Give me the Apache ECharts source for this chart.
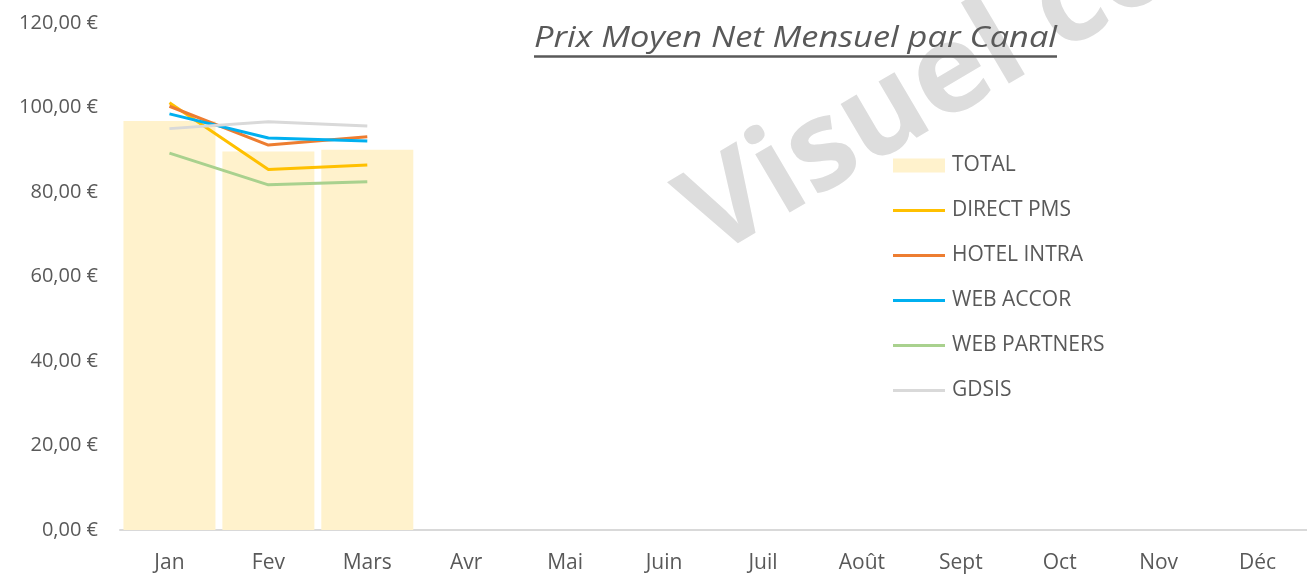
<!DOCTYPE html>
<html>
<head>
<meta charset="utf-8">
<script src="https://cdn.jsdelivr.net/npm/echarts@6/dist/echarts.min.js"></script>
<style>
html,body{margin:0;padding:0;background:#fff;}
#chart{width:1307px;height:574px;}
</style>
</head>
<body>
<div id="chart"></div>
<script>
const months = ['Jan','Fev','Mars','Avr','Mai','Juin','Juil','Août','Sept','Oct','Nov','Déc'];
const total       = [96.8, 89.6, 90.0, null, null, null, null, null, null, null, null, null];
const directPms   = [101.1, 85.3, 86.4, null, null, null, null, null, null, null, null, null];
const hotelIntra  = [100.3, 91.1, 93.1, null, null, null, null, null, null, null, null, null];
const webAccor    = [98.5, 92.8, 92.1, null, null, null, null, null, null, null, null, null];
const webPartners = [89.2, 81.7, 82.4, null, null, null, null, null, null, null, null, null];
const gdsis       = [95.0, 96.6, 95.6, null, null, null, null, null, null, null, null, null];
const yTicks = [0, 20, 40, 60, 80, 100, 120];
const titleText = 'Prix Moyen Net Mensuel par Canal';
const watermarkText = 'Visuel co';

const FONT = '"Open Sans", "Noto Sans", sans-serif';
const TXT = '#595959';

const chart = echarts.init(document.getElementById('chart'), null, {renderer: 'canvas'});

// Title: match the reference width (534 -> 1057)
const titleFont = 'italic 30px "Open Sans"';
const c = document.createElement('canvas').getContext('2d');
c.font = titleFont;
const rawW = c.measureText(titleText).width;
const tLeft = 534, tRight = 1057;
const tScale = (tRight - tLeft) / rawW;

function lineSeries(name, data, color) {
  return {
    name, type: 'line', data, symbol: 'none', showSymbol: false,
    lineStyle: {color, width: 3}, itemStyle: {color}, z: 3
  };
}
const lineIcon = 'path://M0,0H52V3H0Z';

chart.setOption({
  backgroundColor: '#fff',
  animation: false,
  grid: {left: 120, top: 23, width: 1196, bottom: 41, containLabel: false},
  xAxis: {
    type: 'category', data: months,
    axisLine: {lineStyle: {color: '#D9D9D9', width: 2}},
    axisTick: {show: false},
    axisLabel: {color: TXT, fontSize: 21, fontFamily: FONT, margin: 23}
  },
  yAxis: {
    type: 'value', min: yTicks[0], max: yTicks[yTicks.length - 1], interval: 20,
    axisLine: {show: false}, axisTick: {show: false},
    splitLine: {show: false},
    axisLabel: {color: TXT, fontSize: 20, fontFamily: FONT, margin: 22, padding: [4, 0, 0, 0],
      formatter: v => v.toFixed(2).replace('.', ',') + ' €'}
  },
  legend: {
    orient: 'vertical', left: 888, top: 150, itemWidth: 52, itemHeight: 14, itemGap: 24,
    symbolKeepAspect: true,
    textStyle: {color: TXT, fontSize: 21, fontFamily: FONT, padding: [0, 0, 0, 2]},
    data: [
      {name: 'TOTAL', icon: 'rect'},
      {name: 'DIRECT PMS', icon: lineIcon},
      {name: 'HOTEL INTRA', icon: lineIcon},
      {name: 'WEB ACCOR', icon: lineIcon},
      {name: 'WEB PARTNERS', icon: lineIcon},
      {name: 'GDSIS', icon: lineIcon}
    ]
  },
  graphic: [
    {
      type: 'text', x: 694, y: 228, rotation: 30.5 * Math.PI / 180, z: 10, silent: true,
      style: {text: watermarkText, font: 'bold 124px "Open Sans"', fill: '#DDDDDD',
        verticalAlign: 'middle', align: 'left',
        shadowBlur: 3, shadowColor: 'rgba(0,0,0,0.16)', shadowOffsetX: 2, shadowOffsetY: 2}
    },
    {
      type: 'text', x: tLeft, y: 38, scaleX: tScale, z: 50,
      style: {text: titleText, font: titleFont, fill: TXT, align: 'left', verticalAlign: 'middle'}
    },
    {
      type: 'line', z: 50,
      shape: {x1: tLeft, y1: 56.5, x2: tRight, y2: 56.5},
      style: {stroke: TXT, lineWidth: 2.5}
    }
  ],
  series: [
    {name: 'TOTAL', type: 'bar', data: total, barCategoryGap: '7%',
      itemStyle: {color: '#FFF2CC'}, z: 1},
    lineSeries('DIRECT PMS', directPms, '#FFC000'),
    lineSeries('HOTEL INTRA', hotelIntra, '#ED7D31'),
    lineSeries('WEB ACCOR', webAccor, '#00B0F0'),
    lineSeries('WEB PARTNERS', webPartners, '#A9D18E'),
    lineSeries('GDSIS', gdsis, '#D9D9D9')
  ]
});
</script>
</body>
</html>
